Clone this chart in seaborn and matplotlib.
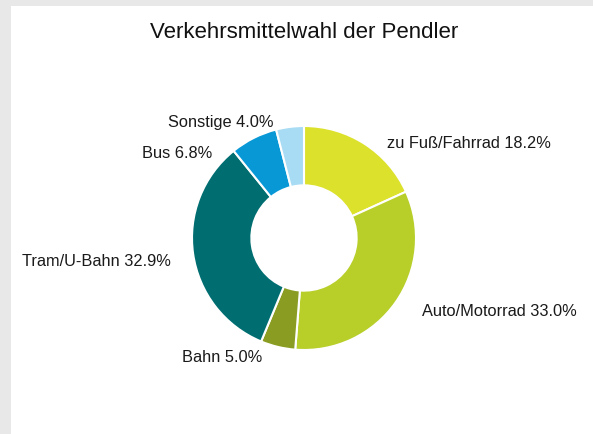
import matplotlib
matplotlib.use("Agg")
import matplotlib.pyplot as plt
from matplotlib.patches import Rectangle
import seaborn as sns

# Modal split of commuters (share in percent)
categories = ["zu Fuß/Fahrrad", "Auto/Motorrad", "Bahn", "Tram/U-Bahn", "Bus", "Sonstige"]
shares = [18.2, 33.0, 5.0, 32.9, 6.8, 4.0]
colors = ["#dce12b", "#b8ce29", "#8a9d22", "#006e71", "#0898d6", "#a8dbf4"]

# label anchor points in pixels (left edge x, centre y from top)
label_px = [(387, 143), (422, 311), (182, 358), (22, 262), (142, 153), (168, 123)]

sns.set_theme(style="white")
plt.rcParams["font.family"] = ["Liberation Sans", "DejaVu Sans"]

W, H = 593, 434
DPI = 100
fig = plt.figure(figsize=(W / DPI, H / DPI), dpi=DPI, facecolor="#e8e8e8")
fig.patches.append(Rectangle((11 / W, 0), 1 - 11 / W, 1 - 6 / H,
                             transform=fig.transFigure, facecolor="white",
                             edgecolor="none", zorder=-10))

ax = fig.add_axes([0, 0, 1, 1])
ax.set_facecolor("none")
ax.patch.set_visible(False)

ax.pie(shares, colors=colors, startangle=90, counterclock=False, radius=1.0,
       wedgeprops=dict(width=0.53, edgecolor="white", linewidth=1.5))

# pie geometry in pixels
cx, cy, R = 304, 238, 112
ax.set_xlim(-cx / R, (W - cx) / R)
ax.set_ylim(-(H - cy) / R, cy / R)
ax.set_aspect("equal")
ax.axis("off")

for (name, val), (px, py) in zip(zip(categories, shares), label_px):
    ax.text((px - cx) / R, (cy - py) / R, f"{name} {val:.1f}%",
            ha="left", va="center", fontsize=11.8, color="#1a1a1a")

fig.text((150 + 458) / 2 / W, 1 - 33 / H, "Verkehrsmittelwahl der Pendler",
         ha="center", va="center", fontsize=16, color="#111111")

fig.savefig("out.png", dpi=DPI, facecolor=fig.get_facecolor())
